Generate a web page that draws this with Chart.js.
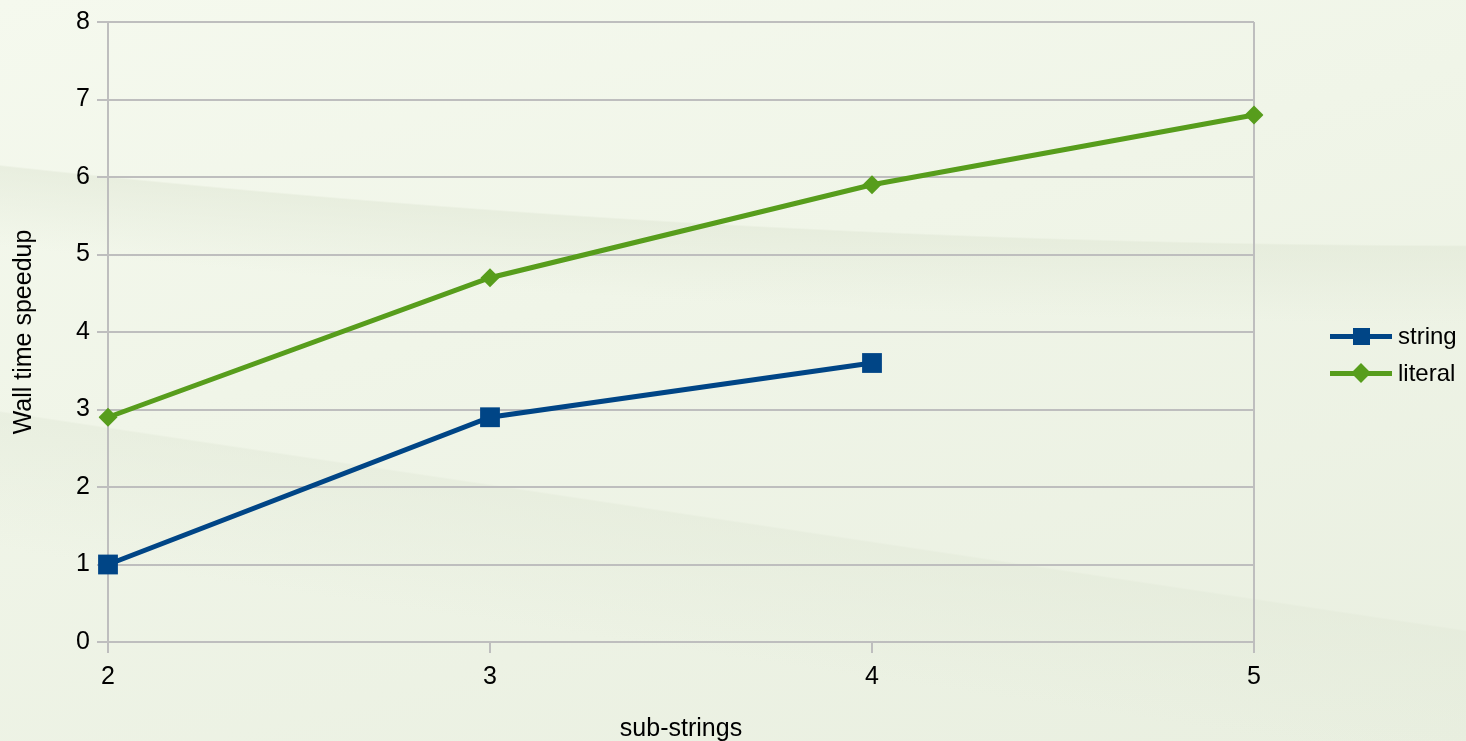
<!DOCTYPE html>
<html>
<head>
<meta charset="utf-8">
<script src="https://cdn.jsdelivr.net/npm/chart.js@4.4.1/dist/chart.umd.min.js"></script>
<style>
    html, body { margin: 0; padding: 0; }
    body {
        width: 1466px;
        height: 741px;
        overflow: hidden;
        position: relative;
        font-family: "Liberation Sans", Arial, sans-serif;
        background:
            linear-gradient(188.5deg, rgba(0,0,0,0) 65.6%, rgba(226,233,216,0.5) 65.8%, rgba(226,233,216,0.15) 76%, rgba(226,233,216,0) 80%),
            radial-gradient(ellipse 5000px 1745px at 1500px -1500px, rgba(0,0,0,0) 100%, rgba(224,231,213,0.55) 100.1%, rgba(224,231,213,0) 104.5%),
            linear-gradient(165deg, #f5f9ee 0%, #f0f5e8 40%, #e9efe0 100%);
    }
    #wrap { position: absolute; left: 0; top: 0; width: 1466px; height: 741px; }
    #legend { position: absolute; left: 1330px; top: 322px; font-size: 24px; color: #000; }
    .item { position: relative; height: 37px; line-height: 28px; padding-left: 68px; }
    .item .line { position: absolute; left: 0; top: 12px; width: 62px; height: 5px; }
    .item .mark { position: absolute; }
</style>
</head>
<body>
<div id="wrap"><canvas id="speedupChart"></canvas></div>
<div id="legend">
    <div class="item"><span class="line" style="background:#004586"></span><span class="mark" style="left:23px;top:6px;width:17px;height:17px;background:#004586"></span>string</div>
    <div class="item"><span class="line" style="background:#579d1c"></span><span class="mark" style="left:24px;top:7px;width:14px;height:14px;background:#579d1c;transform:rotate(45deg)"></span>literal</div>
</div>
<script>
// values
const categories = ['2', '3', '4', '5'];
const stringSpeedup = [1, 2.9, 3.6, null];
const literalSpeedup = [2.9, 4.7, 5.9, 6.8];

const gridColor = '#bebebe';
const font = { family: '"Liberation Sans", Arial, sans-serif', size: 25 };

new Chart(document.getElementById('speedupChart'), {
    type: 'line',
    data: {
        labels: categories,
        datasets: [
            {
                label: 'string', data: stringSpeedup,
                borderColor: '#004586', backgroundColor: '#004586',
                borderWidth: 5, pointStyle: 'rect', pointRadius: 14, pointHoverRadius: 14,
                pointBorderWidth: 0, tension: 0, spanGaps: false
            },
            {
                label: 'literal', data: literalSpeedup,
                borderColor: '#579d1c', backgroundColor: '#579d1c',
                borderWidth: 5, pointStyle: 'rectRot', pointRadius: 9.5, pointHoverRadius: 9.5,
                pointBorderWidth: 0, tension: 0
            }
        ]
    },
    options: {
        responsive: true,
        maintainAspectRatio: false,
        animation: false,
        layout: { padding: { top: 20, right: 212, left: 0, bottom: 0 } },
        plugins: {
            legend: { display: false },
            tooltip: { enabled: false }
        },
        scales: {
            x: {
                offset: false,
                grid: {
                    color: ctx => (ctx.index === 0 || ctx.index === categories.length - 1) ? gridColor : 'rgba(0,0,0,0)',
                    tickColor: gridColor, tickLength: 11, lineWidth: 2
                },
                border: { color: gridColor, width: 2 },
                ticks: { color: '#000', font, padding: 9, maxRotation: 0 },
                title: { display: true, text: 'sub-strings', color: '#000', font: { ...font, lineHeight: 1 }, padding: { top: 0, bottom: -1 } },
                afterFit: scale => { scale.height = 99; }
            },
            y: {
                min: 0, max: 8,
                grid: { color: gridColor, tickColor: gridColor, tickLength: 11, lineWidth: 2 },
                border: { color: gridColor, width: 2 },
                ticks: { stepSize: 1, color: '#000', font, padding: 7 },
                title: { display: true, text: 'Wall time speedup', color: '#000', font, padding: { top: 9, bottom: 0 } },
                afterFit: scale => { scale.width = 108; }
            }
        }
    }
});
</script>
</body>
</html>
